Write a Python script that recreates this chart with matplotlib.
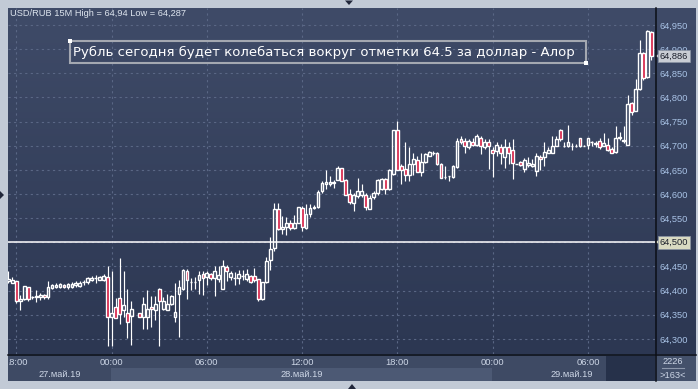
"""
USD/RUB 15M candlestick chart (trading terminal look), recreated with matplotlib.
Candles are indexed by bar number; bar 0 is 27 May 17:30, one bar = 15 min.
Saves out.png at 698x389 px.
"""

import numpy as np
import matplotlib
matplotlib.use("Agg")
import matplotlib.pyplot as plt
from matplotlib.patches import Rectangle, Polygon
from matplotlib.colors import to_rgb
from matplotlib.ticker import FuncFormatter
from matplotlib.transforms import blended_transform_factory, offset_copy, Bbox, TransformedBbox

# ---------------------------------------------------------------------------
# Data (bar 32 has no trade)
# ---------------------------------------------------------------------------
opens = [64.420, 64.415, 64.420, 64.378, 64.383, 64.407, 64.386, 64.386, 64.386, 64.390,
         64.386, 64.406, 64.408, 64.408, 64.412, 64.408, 64.408, 64.411, 64.410, 64.417,
         64.417, 64.422, 64.427, 64.423, 64.422, 64.428, 64.345, 64.366, 64.384, 64.359,
         64.353, 64.348, np.nan, 64.353, 64.346, 64.345, 64.366, 64.359, 64.403, 64.362,
         64.360, 64.372, 64.346, 64.393, 64.403, 64.441, 64.417, 64.417, 64.421, 64.435,
         64.428, 64.435, 64.426, 64.425, 64.404, 64.449, 64.428, 64.427, 64.426, 64.430,
         64.425, 64.431, 64.430, 64.424, 64.383, 64.418, 64.463, 64.489, 64.570, 64.528,
         64.532, 64.541, 64.530, 64.541, 64.572, 64.530, 64.558, 64.572, 64.573, 64.606,
         64.621, 64.621, 64.623, 64.630, 64.653, 64.629, 64.601, 64.582, 64.596, 64.597,
         64.597, 64.570, 64.593, 64.603, 64.611, 64.632, 64.611, 64.641, 64.733, 64.658,
         64.652, 64.639, 64.662, 64.670, 64.646, 64.667, 64.679, 64.686, 64.686, 64.662,
         64.635, 64.638, 64.636, 64.655, 64.714, 64.710, 64.697, 64.708, 64.702, 64.716,
         64.698, 64.708, 64.691, 64.690, 64.697, 64.676, 64.697, 64.692, 64.663, 64.667,
         64.652, 64.660, 64.658, 64.648, 64.676, 64.676, 64.686, 64.686, 64.700, 64.733,
         64.700, 64.699, 64.700, 64.700, 64.715, 64.700, 64.702, 64.707, 64.703, 64.709,
         64.700, 64.702, 64.693, 64.688, 64.717, 64.710, 64.702, 64.789, 64.771, 64.817,
         64.893, 64.842, 64.936]
highs = [64.441, 64.429, 64.420, 64.391, 64.410, 64.408, 64.389, 64.401, 64.396, 64.393,
         64.420, 64.413, 64.415, 64.416, 64.414, 64.416, 64.417, 64.419, 64.419, 64.422,
         64.428, 64.430, 64.432, 64.430, 64.435, 64.450, 64.441, 64.384, 64.467, 64.441,
         64.403, 64.379, np.nan, 64.353, 64.386, 64.401, 64.389, 64.389, 64.405, 64.386,
         64.394, 64.391, 64.415, 64.423, 64.444, 64.444, 64.427, 64.428, 64.441, 64.441,
         64.441, 64.437, 64.452, 64.452, 64.463, 64.454, 64.441, 64.439, 64.442, 64.443,
         64.444, 64.433, 64.447, 64.424, 64.417, 64.469, 64.512, 64.581, 64.581, 64.554,
         64.552, 64.547, 64.556, 64.574, 64.575, 64.579, 64.580, 64.577, 64.608, 64.627,
         64.650, 64.637, 64.630, 64.658, 64.654, 64.632, 64.611, 64.603, 64.634, 64.620,
         64.603, 64.597, 64.606, 64.632, 64.634, 64.634, 64.652, 64.733, 64.751, 64.662,
         64.707, 64.697, 64.686, 64.679, 64.686, 64.686, 64.690, 64.690, 64.688, 64.664,
         64.658, 64.638, 64.660, 64.717, 64.720, 64.715, 64.714, 64.717, 64.724, 64.720,
         64.714, 64.714, 64.698, 64.708, 64.704, 64.713, 64.707, 64.713, 64.663, 64.669,
         64.674, 64.676, 64.672, 64.685, 64.681, 64.707, 64.697, 64.720, 64.721, 64.735,
         64.707, 64.742, 64.706, 64.704, 64.717, 64.701, 64.717, 64.710, 64.709, 64.715,
         64.726, 64.716, 64.698, 64.741, 64.729, 64.741, 64.805, 64.791, 64.838, 64.918,
         64.895, 64.940, 64.938]
lows = [64.415, 64.415, 64.375, 64.360, 64.381, 64.379, 64.383, 64.377, 64.381, 64.382,
        64.382, 64.403, 64.406, 64.405, 64.405, 64.404, 64.405, 64.407, 64.408, 64.412,
        64.414, 64.420, 64.415, 64.421, 64.419, 64.285, 64.285, 64.343, 64.331, 64.345,
        64.301, 64.287, np.nan, 64.346, 64.321, 64.320, 64.325, 64.339, 64.285, 64.360,
        64.360, 64.370, 64.336, 64.305, 64.401, 64.383, 64.401, 64.403, 64.392, 64.390,
        64.411, 64.421, 64.389, 64.418, 64.404, 64.420, 64.421, 64.411, 64.414, 64.421,
        64.420, 64.415, 64.417, 64.379, 64.381, 64.415, 64.442, 64.483, 64.525, 64.517,
        64.515, 64.525, 64.528, 64.540, 64.523, 64.528, 64.553, 64.568, 64.572, 64.603,
        64.610, 64.617, 64.612, 64.629, 64.627, 64.597, 64.580, 64.564, 64.592, 64.594,
        64.566, 64.568, 64.590, 64.599, 64.608, 64.601, 64.608, 64.639, 64.650, 64.620,
        64.627, 64.627, 64.639, 64.645, 64.638, 64.665, 64.678, 64.681, 64.661, 64.633,
        64.632, 64.627, 64.634, 64.654, 64.704, 64.686, 64.693, 64.700, 64.700, 64.683,
        64.693, 64.652, 64.636, 64.679, 64.662, 64.653, 64.662, 64.632, 64.662, 64.658,
        64.646, 64.655, 64.655, 64.638, 64.650, 64.658, 64.685, 64.685, 64.699, 64.710,
        64.698, 64.697, 64.692, 64.698, 64.697, 64.699, 64.693, 64.700, 64.698, 64.693,
        64.699, 64.690, 64.684, 64.686, 64.712, 64.705, 64.702, 64.764, 64.771, 64.815,
        64.836, 64.840, 64.878]
closes = [64.424, 64.422, 64.379, 64.383, 64.410, 64.383, 64.386, 64.388, 64.390, 64.386,
          64.407, 64.411, 64.412, 64.413, 64.407, 64.413, 64.414, 64.415, 64.415, 64.417,
          64.426, 64.427, 64.427, 64.428, 64.430, 64.345, 64.353, 64.343, 64.351, 64.370,
          64.336, 64.362, np.nan, 64.346, 64.372, 64.363, 64.361, 64.372, 64.379, 64.379,
          64.372, 64.389, 64.356, 64.407, 64.443, 64.422, 64.417, 64.417, 64.432, 64.427,
          64.437, 64.426, 64.440, 64.432, 64.452, 64.441, 64.437, 64.427, 64.434, 64.430,
          64.434, 64.418, 64.422, 64.383, 64.417, 64.461, 64.487, 64.568, 64.527, 64.531,
          64.541, 64.530, 64.541, 64.573, 64.532, 64.558, 64.572, 64.573, 64.605, 64.622,
          64.625, 64.625, 64.624, 64.653, 64.627, 64.599, 64.583, 64.599, 64.607, 64.607,
          64.573, 64.592, 64.603, 64.630, 64.632, 64.611, 64.649, 64.733, 64.650, 64.650,
          64.639, 64.663, 64.672, 64.646, 64.667, 64.683, 64.688, 64.686, 64.663, 64.634,
          64.636, 64.638, 64.658, 64.710, 64.708, 64.699, 64.710, 64.701, 64.720, 64.700,
          64.708, 64.699, 64.686, 64.702, 64.686, 64.697, 64.684, 64.665, 64.663, 64.661,
          64.671, 64.665, 64.663, 64.678, 64.672, 64.688, 64.692, 64.700, 64.714, 64.714,
          64.700, 64.707, 64.700, 64.700, 64.700, 64.700, 64.716, 64.707, 64.705, 64.698,
          64.706, 64.692, 64.686, 64.717, 64.719, 64.711, 64.786, 64.769, 64.817, 64.891,
          64.840, 64.938, 64.886]

time_tick_bars = [2, 26, 50, 74, 98, 122, 146]
time_tick_labels = ["18:00", "00:00", "06:00", "12:00", "18:00", "00:00", "06:00"]
date_label_bars = [13, 74, 142]
date_labels = ["27.май.19", "28.май.19", "29.май.19"]
price_ticks = [64.30, 64.35, 64.40, 64.45, 64.50, 64.55, 64.60, 64.65, 64.70,
               64.75, 64.80, 64.85, 64.90, 64.95]
level_line = 64.50
header = "USD/RUB 15M High = 64,94 Low = 64,287"
headline = "Рубль сегодня будет колебаться вокруг отметки 64.5 за доллар - Алор"

# ---------------------------------------------------------------------------
# Style
# ---------------------------------------------------------------------------
FRAME = "#c2cad6"
BG_TOP, BG_BOT = "#3f4b68", "#2c3752"
GRID = "#5a6785"
RED = "#d4143c"
AXIS_TXT = "#a9c3e6"
TIME_TXT = "#cdd6e6"
FONT = "Liberation Sans"
FS = 6.7

W, H = 698, 389
fig = plt.figure(figsize=(W / 100, H / 100), dpi=100, facecolor=FRAME)


def frac(x0, y0, x1, y1):
    # pixel box (top-left origin) -> figure fraction rect
    return [x0 / W, 1 - y1 / H, (x1 - x0) / W, (y1 - y0) / H]


def px(z):
    a = fig.add_axes([0, 0, 1, 1], zorder=z)
    a.set_xlim(0, W)
    a.set_ylim(H, 0)
    a.axis("off")
    return a


# ---------------------------------------------------------------------------
# Background chrome (pixel coords)
# ---------------------------------------------------------------------------
bg = px(0)
t = np.linspace(0, 1, 200)[:, None, None]
grad = (1 - t) * np.array(to_rgb(BG_TOP)) + t * np.array(to_rgb(BG_BOT))
bg.imshow(grad, extent=(8, 696, 354, 8), aspect="auto", interpolation="bilinear")
bg.add_patch(Rectangle((8, 354), 688, 27, color="#3e4a64", lw=0))
bg.add_patch(Rectangle((111, 368), 381, 13, color="#4c5974", lw=0))
bg.add_patch(Rectangle((606, 356), 49, 25, color="#26314a", lw=0))
bg.add_patch(Rectangle((655, 354), 41, 27, color="#44516b", lw=0))
bg.set_xlim(0, W)
bg.set_ylim(H, 0)

# ---------------------------------------------------------------------------
# Main price axes
# ---------------------------------------------------------------------------
ax = fig.add_axes(frac(8, 8, 655, 354), zorder=1)
ax.patch.set_alpha(0)
for s in ax.spines.values():
    s.set_visible(False)

o = np.array(opens)
hi = np.array(highs)
lo = np.array(lows)
c = np.array(closes)
idx = np.arange(len(o))
ok = ~np.isnan(o)
top = np.maximum(o, c)
bot = np.minimum(o, c)
up = ok & (c >= o)
dn = ok & (c < o)

# wicks outside the body only, so hollow bodies stay empty
ax.vlines(idx[ok], top[ok], hi[ok], color="white", lw=0.85, zorder=3)
ax.vlines(idx[ok], lo[ok], bot[ok], color="white", lw=0.85, zorder=3)
ax.bar(idx[up], (c - o)[up], bottom=o[up], width=0.7, facecolor="none",
       edgecolor="white", lw=1.0, zorder=4)
ax.bar(idx[dn], (o - c)[dn], bottom=c[dn], width=0.7, facecolor=RED,
       edgecolor="white", lw=1.0, zorder=4)

ax.axhline(level_line, color="white", lw=1.1, zorder=2)

ax.set_xlim(-0.1, 162.9)
ax.set_ylim(64.2688, 64.9852)
ax.set_yticks(price_ticks)
ax.yaxis.set_major_formatter(FuncFormatter(lambda v, _: f"{v:.3f}".replace(".", ",")))
ax.yaxis.tick_right()
ax.set_xticks(time_tick_bars)
ax.set_xticklabels(time_tick_labels)
ax.grid(True, color=GRID, lw=0.8, ls=(0, (2, 3)), zorder=0)
ax.tick_params(axis="y", length=0, pad=3, labelcolor=AXIS_TXT, labelsize=FS)
ax.tick_params(axis="x", length=0, pad=3, labelcolor=TIME_TXT, labelsize=FS)

# time labels are cut at the left frame edge (first one reads "8:00")
clip = TransformedBbox(Bbox([[8.5 / W, 0], [1, 1]]), fig.transFigure)
for lab in ax.get_xticklabels():
    lab.set_fontfamily(FONT)
    lab.set_clip_box(clip)
    lab.set_clip_on(True)
for lab in ax.get_yticklabels():
    lab.set_fontfamily(FONT)

xd = blended_transform_factory(ax.transData, ax.transAxes)
for b, lab in zip(date_label_bars, date_labels):
    ax.text(b, -0.058, lab, transform=xd, ha="center", va="center",
            fontsize=FS, family=FONT, color=TIME_TXT, clip_on=False)

# price tags at the right edge
yr = blended_transform_factory(ax.transAxes, ax.transData)
for val, fc in [(closes[-1], "#c9cdd4"), (level_line, "#d9dac2")]:
    ax.plot([1], [val], marker="<", ms=5, color=fc, mew=0, clip_on=False,
            transform=offset_copy(yr, fig=fig, x=3, y=0, units="dots"), zorder=6)
    ax.text(1, val, f"{val:.3f}".replace(".", ","), ha="left", va="center",
            transform=offset_copy(yr, fig=fig, x=5, y=0, units="dots"),
            fontsize=FS, family=FONT, color="#1b1f2b", clip_on=False, zorder=7,
            bbox=dict(boxstyle="square,pad=0.18", fc=fc, ec="#8a94a4", lw=0.5))

# ---------------------------------------------------------------------------
# Foreground chrome (pixel coords)
# ---------------------------------------------------------------------------
fg = px(3)
for x0, y0, w, h in [(0, 0, 7.5, H), (0, 0, W, 7.5), (0, 381, W, 8), (696, 0, 2, H)]:
    fg.add_patch(Rectangle((x0, y0), w, h, color=FRAME, lw=0))
fg.plot([655.5, 655.5], [8, 381], color="#0b0e16", lw=1.1)
fg.plot([8, 696], [354.5, 354.5], color="#0b0e16", lw=1.1)

fg.text(10, 13.5, header, fontsize=FS, family=FONT, color="#dde4ee", va="center")

fg.add_patch(Rectangle((70, 41), 516, 22, fill=False, ec="#a4a8b1", lw=1.5))
for sx, sy in [(70, 41), (586, 63)]:
    fg.add_patch(Rectangle((sx - 2, sy - 2), 4, 4, color="white", lw=0))
fg.text(73, 52.5, headline, fontsize=9.5, family="DejaVu Sans", color="white",
        va="center", ha="left")

fg.text(673, 362, "2226", fontsize=FS, family=FONT, color=TIME_TXT, ha="center", va="center")
fg.plot([662, 684], [368, 368], color="#8c97ab", lw=0.8)
fg.text(673, 375, ">163<", fontsize=FS, family=FONT, color=TIME_TXT, ha="center", va="center")

for pts in [[(345, 0.5), (353, 0.5), (349, 5)],
            [(348, 389), (356, 389), (352, 384)],
            [(0, 191), (0, 199), (4, 195)]]:
    fg.add_patch(Polygon(pts, closed=True, color="#20263a", lw=0))

fig.savefig("out.png", dpi=100, facecolor=FRAME)
